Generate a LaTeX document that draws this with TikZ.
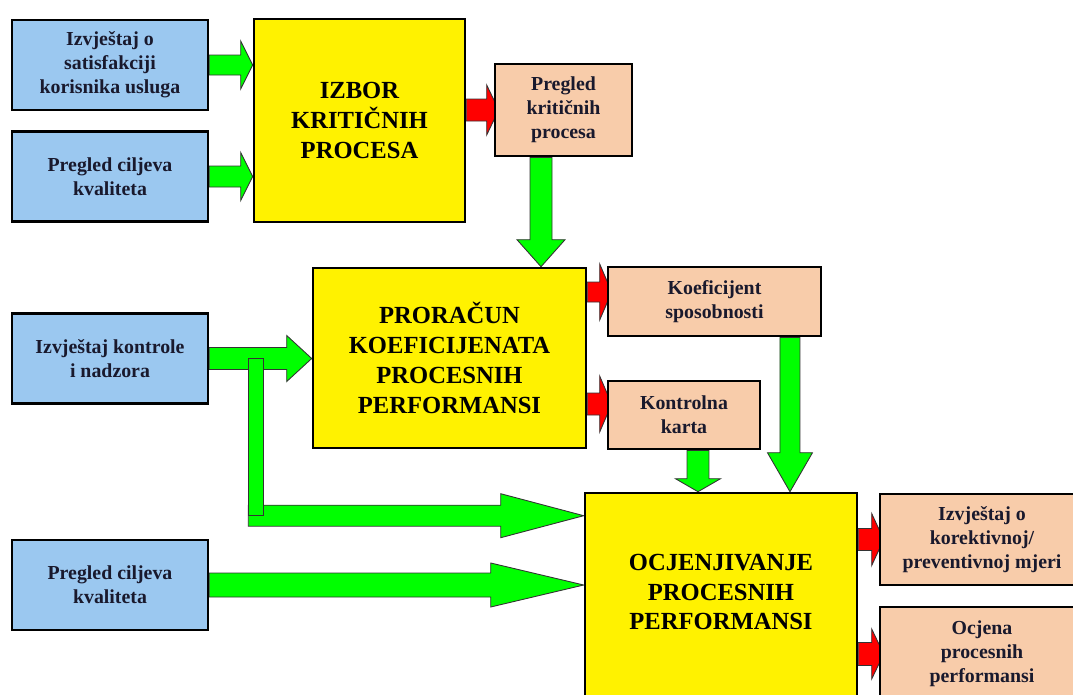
\documentclass[tikz,border=0pt]{standalone}
\usepackage{fontspec}
\setmainfont{Liberation Serif}
\usetikzlibrary{calc, positioning}

\definecolor{boxblue}{RGB}{155,200,240}
\definecolor{boxpeach}{RGB}{248,204,170}
\definecolor{arrowgreen}{RGB}{0,255,0}
\definecolor{arrowred}{RGB}{255,0,0}
\definecolor{textnavy}{RGB}{25,25,45}

\pgfdeclarelayer{background}
\pgfsetlayers{background,main}

\tikzset{
  box/.style={draw=black, line width=1.5pt, align=center, font=\bfseries\fontsize{11.3}{13.7}\selectfont, text=textnavy},
  inbox/.style={box, fill=boxblue, minimum width=3.92cm, minimum height=1.8cm},
  outbox/.style={box, fill=boxpeach},
  stagetext/.style={align=center, font=\bfseries\fontsize{14}{17}\selectfont, text=black},
  stagebox/.style={box, fill=yellow, stagetext},
  fatline/.style={draw=black!80, line width=0.5pt}
}

% #2 start, #3 tip, #4 half body, #5 half head, #6 head length
\newcommand{\fatarrow}[6][arrowgreen]{%
  \coordinate (fa-s) at (#2);
  \coordinate (fa-t) at (#3);
  \coordinate (fa-h) at ($(fa-t)!#6!(fa-s)$);
  \draw[fatline, fill=#1] ($(fa-s)!#4!90:(fa-t)$) -- ($(fa-h)!#4!90:(fa-t)$) -- ($(fa-h)!#5!90:(fa-t)$) -- (fa-t)
    -- ($(fa-h)!#5!-90:(fa-t)$) -- ($(fa-h)!#4!-90:(fa-t)$) -- ($(fa-s)!#4!-90:(fa-t)$) -- cycle;}

\begin{document}
\begin{tikzpicture}[x=0.02cm, y=-0.02cm]
  \useasboundingbox (0,0) rectangle (1073,694);

  \node[inbox] (satisf) at (110,65) {Izvještaj o\\satisfakciji\\korisnika usluga};
  \node[inbox] (ciljevi) at (110,176.5) {Pregled ciljeva\\kvaliteta};
  \node[inbox] (kontrola) at (110,358.5) {Izvještaj kontrole\\i nadzora};
  \node[inbox] (ciljevib) at (110,585) {Pregled ciljeva\\kvaliteta};

  \node[stagebox, minimum width=4.22cm, minimum height=4.06cm] (izbor) at (359.5,120.5) {IZBOR\\KRITIČNIH\\PROCESA};
  \node[outbox, minimum width=2.74cm, minimum height=1.84cm] (pregled) at (563.5,110) {Pregled\\kritičnih\\procesa};
  \node[stagebox, minimum width=5.46cm, minimum height=3.6cm] (proracun) at (449.5,358) {PRORAČUN\\KOEFICIJENATA\\PROCESNIH\\PERFORMANSI};
  \node[outbox, minimum width=4.26cm, minimum height=1.38cm] (koef) at (714.5,301.5) {Koeficijent\\sposobnosti};
  \node[outbox, minimum width=3.04cm, minimum height=1.36cm] (kontrolna) at (684,415) {Kontrolna\\karta};
  \node[stagebox, minimum width=5.44cm, minimum height=4.4cm,
    label={[stagetext, yshift=0.22cm]center:{OCJENJIVANJE\\PROCESNIH\\PERFORMANSI}}] (ocjena) at (721,603) {};
  \node[outbox, minimum width=4.08cm, minimum height=1.82cm] (korekt) at (982,539.5) {Izvještaj o\\korektivnoj/\\preventivnoj mjeri};
  \node[outbox, minimum width=4.08cm, minimum height=1.88cm] (ocjenaperf) at (982,654) {Ocjena\\procesnih\\performansi};

  \coordinate (d1) at ([xshift=-0.45cm]pregled.south);
  \coordinate (d2) at ([xshift=0.28cm]kontrolna.south);
  \coordinate (d3) at ([xshift=1.51cm]koef.south);
  \coordinate (r1) at ([yshift=0.19cm]koef.west);
  \coordinate (r2) at ([yshift=0.22cm]kontrolna.west);
  \coordinate (split) at ($(kontrola.east)+(46.5,0)$);
  \coordinate (bend) at ($(split |- ocjena.north)+(0,24)$);

  \begin{pgfonlayer}{background}
    \fatarrow{satisf.east}{satisf.east -| izbor.west}{0.2cm}{0.48cm}{0.24cm}
    \fatarrow{ciljevi.east}{ciljevi.east -| izbor.west}{0.21cm}{0.48cm}{0.24cm}
    \fatarrow[arrowred]{izbor.east |- pregled.west}{$(pregled.west)+(5,0)$}{0.22cm}{0.5cm}{0.24cm}
    \fatarrow{d1}{d1 |- proracun.north}{0.22cm}{0.48cm}{0.54cm}
    \fatarrow{kontrola.east}{kontrola.east -| proracun.west}{0.22cm}{0.46cm}{0.5cm}
    \fatarrow[arrowred]{proracun.east |- r1}{$(r1)+(5,0)$}{0.2cm}{0.56cm}{0.24cm}
    \fatarrow[arrowred]{proracun.east |- r2}{$(r2)+(5,0)$}{0.22cm}{0.56cm}{0.24cm}
    \fatarrow{d2}{d2 |- ocjena.north}{0.22cm}{0.45cm}{0.26cm}
    \fatarrow{d3}{d3 |- ocjena.north}{0.2cm}{0.45cm}{0.78cm}
    \fatarrow{$(bend)+(-7.5,0)$}{bend -| ocjena.west}{0.21cm}{0.44cm}{1.66cm}
    \fatarrow{ciljevib.east}{ciljevib.east -| ocjena.west}{0.24cm}{0.44cm}{1.86cm}
    \fatarrow[arrowred]{ocjena.east |- korekt.west}{$(korekt.west)+(5,0)$}{0.22cm}{0.52cm}{0.24cm}
    \fatarrow[arrowred]{ocjena.east |- ocjenaperf.west}{$(ocjenaperf.west)+(5,0)$}{0.23cm}{0.5cm}{0.24cm}
    \draw[fatline, fill=arrowgreen] ($(split)+(-7.5,0)$) rectangle ($(bend)+(7.5,0)$);
  \end{pgfonlayer}
\end{tikzpicture}
\end{document}
